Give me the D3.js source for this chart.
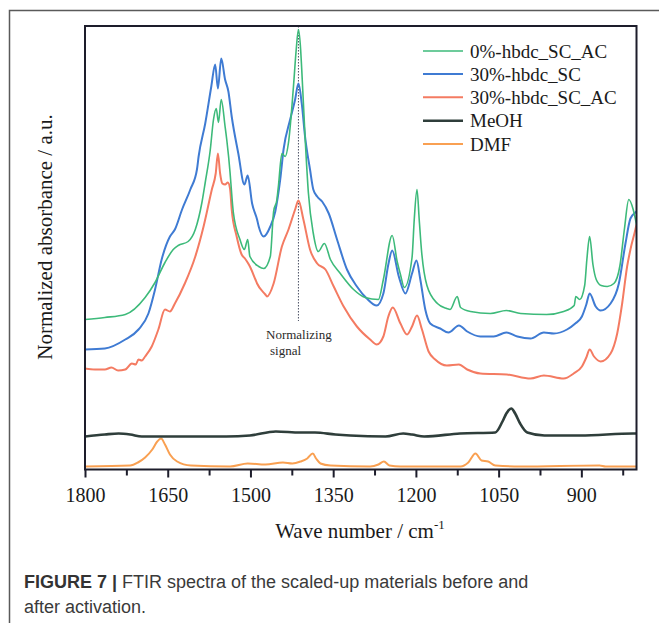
<!DOCTYPE html>
<html>
<head>
<meta charset="utf-8">
<script src="https://cdn.jsdelivr.net/npm/d3@7/dist/d3.min.js"></script>
<style>
  html, body { margin: 0; padding: 0; background: #ffffff; }
  svg { display: block; }
</style>
</head>
<body>
<svg id="chart" width="659" height="623"></svg>
<script>
// ---------------- DATA ----------------
const seriesNames = ["0%-hbdc_SC_AC", "30%-hbdc_SC", "30%-hbdc_SC_AC", "MeOH", "DMF"];
const seriesColors = ["#3dba7a", "#3f7bd3", "#f47b62", "#2f3e3b", "#f9a052"];

// [wavenumber (cm-1), normalized absorbance (a.u., offset)]
const green0AC = [
  [1800,1.50],[1764,1.52],[1727,1.55],[1691,1.72],[1673,1.87],[1655,2.07],[1640,2.20],[1631,2.24],
  [1613,2.28],[1600,2.40],[1588,2.67],[1582,2.87],[1573,3.19],[1567,3.50],[1562,3.61],[1558,3.47],
  [1553,3.70],[1546,3.43],[1543,3.30],[1537,2.97],[1536,2.90],[1531,2.57],[1519,2.30],[1511,2.20],
  [1505,2.30],[1501,2.13],[1485,2.03],[1476,2.01],[1464,2.13],[1458,2.58],[1452,2.70],[1449,2.85],
  [1443,3.16],[1437,3.13],[1431,3.27],[1422,3.83],[1417,4.20],[1413,4.40],[1409,4.20],[1407,4.00],
  [1401,3.33],[1395,2.77],[1386,2.36],[1377,2.18],[1366,2.26],[1355,2.10],[1337,1.96],[1313,1.80],
  [1292,1.72],[1268,1.70],[1259,1.90],[1243,2.34],[1234,2.08],[1228,1.95],[1221,1.82],[1207,2.12],
  [1203,2.50],[1198,2.80],[1194,2.50],[1190,2.20],[1180,1.84],[1161,1.66],[1144,1.61],[1138,1.60],
  [1125,1.73],[1119,1.62],[1101,1.58],[1065,1.56],[1036,1.59],[1010,1.56],[963,1.55],[932,1.58],
  [913,1.64],[910,1.73],[903,1.70],[894,1.84],[890,2.10],[885,2.33],[879,2.05],[873,1.90],
  [864,1.84],[853,1.83],[841,1.86],[830,2.04],[822,2.40],[814,2.70],[806,2.60],[800,2.45]
];
const blue30SC = [
  [1800,1.20],[1764,1.21],[1727,1.30],[1703,1.40],[1685,1.56],[1673,1.80],[1661,2.10],[1646,2.33],
  [1637,2.40],[1624,2.60],[1609,2.80],[1597,3.00],[1594,3.13],[1582,3.46],[1571,3.83],[1564,4.05],
  [1559,3.81],[1553,4.11],[1546,3.90],[1540,3.78],[1534,3.53],[1522,3.16],[1511,2.85],[1505,2.94],
  [1497,2.66],[1488,2.50],[1485,2.43],[1476,2.33],[1464,2.43],[1455,2.58],[1446,2.90],[1440,3.20],
  [1428,3.50],[1419,3.70],[1413,3.86],[1407,3.66],[1401,3.33],[1392,3.00],[1386,2.80],[1379,2.73],
  [1370,2.68],[1358,2.56],[1343,2.30],[1325,2.00],[1307,1.83],[1289,1.71],[1271,1.64],[1259,1.76],
  [1250,2.05],[1243,2.19],[1231,1.93],[1219,1.76],[1207,1.96],[1199,2.09],[1192,1.90],[1183,1.60],
  [1174,1.46],[1156,1.41],[1141,1.37],[1122,1.44],[1107,1.38],[1083,1.33],[1059,1.33],[1036,1.37],
  [1016,1.33],[992,1.31],[968,1.37],[950,1.36],[926,1.40],[911,1.46],[899,1.53],[891,1.65],
  [885,1.76],[874,1.63],[865,1.59],[847,1.66],[832,1.86],[820,2.26],[811,2.51],[802,2.57],[800,2.58]
];
const red30AC = [
  [1800,1.01],[1782,1.00],[1764,1.00],[1752,1.02],[1740,0.99],[1727,1.00],[1715,1.06],[1708,1.05],
  [1703,1.10],[1697,1.09],[1691,1.13],[1679,1.23],[1667,1.40],[1655,1.60],[1646,1.58],[1637,1.66],
  [1619,1.86],[1600,2.13],[1585,2.43],[1570,2.80],[1563,2.96],[1559,3.16],[1555,2.96],[1551,2.86],
  [1546,2.85],[1541,2.87],[1537,2.81],[1534,2.60],[1525,2.33],[1516,2.15],[1510,2.11],[1504,2.06],
  [1501,2.03],[1491,1.90],[1488,1.86],[1473,1.75],[1470,1.73],[1458,1.86],[1443,2.23],[1431,2.40],
  [1419,2.60],[1413,2.69],[1404,2.50],[1392,2.20],[1379,2.06],[1364,2.00],[1349,1.83],[1331,1.63],
  [1307,1.43],[1283,1.30],[1271,1.25],[1259,1.33],[1250,1.53],[1242,1.62],[1228,1.46],[1216,1.35],
  [1207,1.43],[1198,1.54],[1189,1.40],[1177,1.18],[1165,1.10],[1144,1.04],[1122,1.05],[1107,1.00],
  [1083,0.96],[1035,0.95],[992,0.91],[968,0.94],[932,0.91],[914,0.96],[899,1.03],[891,1.12],
  [885,1.20],[877,1.13],[865,1.08],[847,1.16],[835,1.36],[826,1.66],[817,2.03],[811,2.20],[802,2.40],[800,2.45]
];
const meoh = [
  [1800,0.33],[1764,0.35],[1739,0.36],[1718,0.35],[1697,0.33],[1628,0.33],[1544,0.33],[1501,0.34],
  [1454,0.38],[1410,0.37],[1383,0.37],[1346,0.35],[1319,0.34],[1255,0.33],[1223,0.36],[1207,0.35],
  [1185,0.33],[1120,0.36],[1056,0.37],[1043,0.48],[1036,0.56],[1027,0.61],[1020,0.56],[1011,0.46],
  [998,0.37],[967,0.34],[902,0.34],[806,0.36],[800,0.36]
];
const dmf = [
  [1800,0.03],[1718,0.04],[1704,0.07],[1691,0.12],[1678,0.20],[1669,0.28],[1662,0.31],[1655,0.25],
  [1646,0.15],[1633,0.08],[1608,0.04],[1537,0.03],[1505,0.06],[1473,0.05],[1441,0.07],[1424,0.06],
  [1409,0.08],[1397,0.11],[1387,0.16],[1381,0.11],[1373,0.06],[1355,0.04],[1283,0.03],[1268,0.05],
  [1258,0.08],[1248,0.04],[1228,0.03],[1119,0.03],[1105,0.07],[1092,0.16],[1081,0.09],[1069,0.08],
  [1056,0.04],[1010,0.03],[867,0.04],[856,0.03],[800,0.03]
];
const seriesData = [green0AC, blue30SC, red30AC, meoh, dmf];
const seriesWidths = [1.6, 2.0, 2.0, 2.6, 2.0];

const xTickValues = [1800,1725,1650,1575,1500,1425,1350,1275,1200,1125,1050,975,900,825];
const xTickLabels = [1800,1650,1500,1350,1200,1050,900];
const normalizingWavenumber = 1413;

const xTitle = "Wave number / cm";
const xTitleSup = "-1";
const yTitle = "Normalized absorbance / a.u.";
const annotation = ["Normalizing", "signal"];
const captionBold = "FIGURE 7 |";
const captionLine1 = " FTIR spectra of the scaled-up materials before and";
const captionLine2 = "after activation.";

// ---------------- LAYOUT ----------------
const W = 659, H = 623;
const plot = { left: 85, right: 636.5, top: 26, bottom: 469.5 };
const serif = "'Liberation Serif', 'Times New Roman', serif";
const sans = "'Liberation Sans', Arial, sans-serif";

const svg = d3.select("#chart");

const x = d3.scaleLinear().domain([1800, 800]).range([plot.left, plot.right]);
const y = d3.scaleLinear().domain([0, 4.435]).range([plot.bottom, plot.top]);

// outer figure border (top and left)
svg.append("path")
  .attr("d", `M9.5,${H} V10.5 H${W}`)
  .attr("fill", "none").attr("stroke", "#5a5a5a").attr("stroke-width", 1.5);

// clip
svg.append("clipPath").attr("id", "clip")
  .append("rect").attr("x", plot.left).attr("y", plot.top)
  .attr("width", plot.right - plot.left).attr("height", plot.bottom - plot.top);

// normalizing dotted line
svg.append("line")
  .attr("x1", x(normalizingWavenumber)).attr("x2", x(normalizingWavenumber))
  .attr("y1", plot.top).attr("y2", 321)
  .attr("stroke", "#4a4f63").attr("stroke-width", 1).attr("stroke-dasharray", "1.5,1.5");

// spectra
const line = d3.line()
  .x(d => x(d[0])).y(d => y(d[1]))
  .curve(d3.curveMonotoneX);

const g = svg.append("g").attr("clip-path", "url(#clip)");
// draw order: bottom to top, green on top
[4, 3, 2, 1, 0].forEach(i => {
  g.append("path")
    .datum(seriesData[i])
    .attr("d", line)
    .attr("fill", "none")
    .attr("stroke", seriesColors[i])
    .attr("stroke-width", seriesWidths[i])
    .attr("stroke-linejoin", "round");
});

// frame
svg.append("rect")
  .attr("x", plot.left).attr("y", plot.top)
  .attr("width", plot.right - plot.left).attr("height", plot.bottom - plot.top)
  .attr("fill", "none").attr("stroke", "#1d1d2b").attr("stroke-width", 2);

// x axis
const xAxis = d3.axisBottom(x)
  .tickValues(xTickValues)
  .tickSize(7)
  .tickPadding(4)
  .tickFormat(d => xTickLabels.includes(d) ? d : "");
const ax = svg.append("g")
  .attr("transform", `translate(0,${plot.bottom})`)
  .call(xAxis);
ax.select(".domain").remove();
ax.selectAll(".tick line").attr("stroke", "#1d1d2b").attr("stroke-width", 2)
  .attr("y2", d => xTickLabels.includes(d) ? 8 : 6);
ax.selectAll(".tick text")
  .attr("font-family", serif).attr("font-size", 20).attr("fill", "#1a1a1a")
  .attr("y", 32).attr("dy", 0);

// x title
const xt = svg.append("text")
  .attr("x", 360).attr("y", 538)
  .attr("text-anchor", "middle")
  .attr("font-family", serif).attr("font-size", 21).attr("fill", "#1a1a1a");
xt.append("tspan").text(xTitle);
xt.append("tspan").text(xTitleSup).attr("font-size", 13).attr("dy", -9);

// y title
svg.append("text")
  .attr("transform", "translate(45,237) rotate(-90)")
  .attr("text-anchor", "middle").attr("dominant-baseline", "central")
  .attr("font-family", serif).attr("font-size", 21).attr("fill", "#1a1a1a")
  .text(yTitle);

// annotation
svg.append("text").attr("x", 266).attr("y", 339)
  .attr("font-family", serif).attr("font-size", 13).attr("fill", "#2a2a2a")
  .text(annotation[0]);
svg.append("text").attr("x", 270).attr("y", 355)
  .attr("font-family", serif).attr("font-size", 13).attr("fill", "#2a2a2a")
  .text(annotation[1]);

// legend
const legendY = [51, 74, 97.3, 120.7, 144];
seriesNames.forEach((name, i) => {
  const lg = svg.append("g");
  lg.append("line")
    .attr("x1", 423).attr("x2", 463)
    .attr("y1", legendY[i]).attr("y2", legendY[i])
    .attr("stroke", seriesColors[i]).attr("stroke-width", seriesWidths[i]);
  lg.append("text")
    .attr("x", 470).attr("y", legendY[i])
    .attr("dominant-baseline", "central")
    .attr("font-family", serif).attr("font-size", 19).attr("fill", "#1a1a1a")
    .text(name);
});

// caption
const c1 = svg.append("text").attr("x", 24).attr("y", 588)
  .attr("font-family", sans).attr("font-size", 18).attr("fill", "#3a3a3a");
c1.append("tspan").attr("font-weight", "bold").attr("fill", "#333").text(captionBold);
c1.append("tspan").text(captionLine1);
svg.append("text").attr("x", 24).attr("y", 613)
  .attr("font-family", sans).attr("font-size", 18).attr("fill", "#3a3a3a")
  .text(captionLine2);
</script>
</body>
</html>
